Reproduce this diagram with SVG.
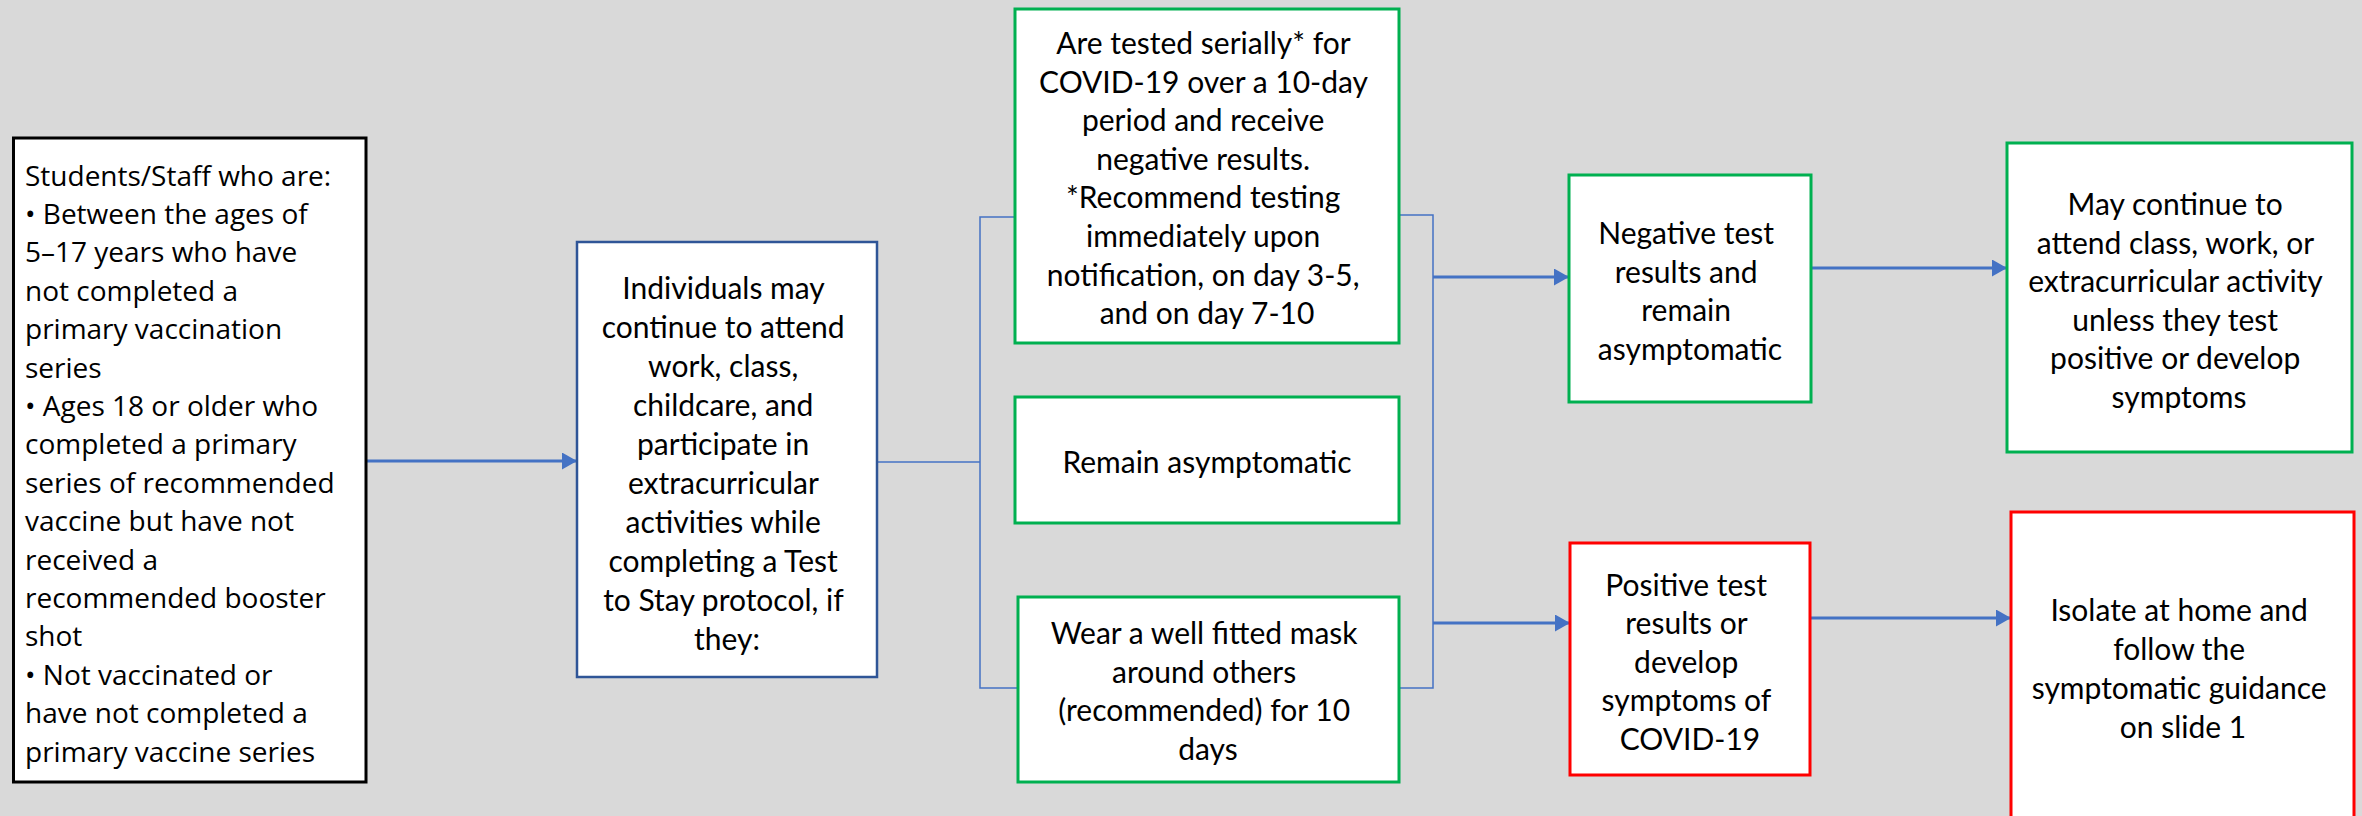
<svg xmlns="http://www.w3.org/2000/svg" width="2362" height="816" viewBox="0 0 2362 816">
<style>
.box{fill:#fff;stroke-width:3}
.blk{stroke:#000}
.blu{stroke:#2F5597;stroke-width:2.5}
.grn{stroke:#00B050}
.red{stroke:#FF0000}
.t{font-family:Lato,"Liberation Sans",sans-serif;font-size:30px;fill:#000;text-anchor:middle}
.t1{font-family:"Open Sans","Noto Sans",sans-serif;font-size:28px;fill:#000}
.br{fill:none;stroke:#4472C4;stroke-width:1.5}
.ar{fill:none;stroke:#4472C4;stroke-width:2.8;marker-end:url(#ah)}
</style>
<defs>
<marker id="ah" markerUnits="userSpaceOnUse" markerWidth="16" markerHeight="17" refX="15" refY="8.5" orient="auto">
<path d="M0,0 L15,8.5 L0,17 z" fill="#4472C4"/>
</marker>
</defs>
<rect width="2362" height="816" fill="#D9D9D9"/>

<g id="connectors">
<path class="ar" d="M366,461 H577"/>
<path class="br" d="M877,462 H980"/>
<path class="br" d="M1015,217 H980 V688 H1018"/>
<path class="br" d="M1399,215 H1433 V688 H1399"/>
<path class="ar" d="M1433,277 H1569"/>
<path class="ar" d="M1433,623 H1570"/>
<path class="ar" d="M1811,268 H2007"/>
<path class="ar" d="M1810,618 H2011"/>
</g>

<g id="n1">
<rect class="box blk" x="13.5" y="138" width="352.5" height="644"/>
<text class="t1">
<tspan x="25" y="185.5">Students/Staff who are:</tspan>
<tspan x="25" y="223.9">• Between the ages of</tspan>
<tspan x="25" y="262.3">5–17 years who have</tspan>
<tspan x="25" y="300.7">not completed a</tspan>
<tspan x="25" y="339.1">primary vaccination</tspan>
<tspan x="25" y="377.5">series</tspan>
<tspan x="25" y="415.9">• Ages 18 or older who</tspan>
<tspan x="25" y="454.3">completed a primary</tspan>
<tspan x="25" y="492.7">series of recommended</tspan>
<tspan x="25" y="531.1">vaccine but have not</tspan>
<tspan x="25" y="569.5">received a</tspan>
<tspan x="25" y="607.9">recommended booster</tspan>
<tspan x="25" y="646.3">shot</tspan>
<tspan x="25" y="684.7">• Not vaccinated or</tspan>
<tspan x="25" y="723.1">have not completed a</tspan>
<tspan x="25" y="761.5">primary vaccine series</tspan>
</text>
</g>

<g id="n2">
<rect class="box blu" x="577" y="242" width="300" height="435"/>
<text class="t">
<tspan x="727" y="299">Individuals may</tspan>
<tspan x="727" y="338">continue to attend</tspan>
<tspan x="727" y="377">work, class,</tspan>
<tspan x="727" y="416">childcare, and</tspan>
<tspan x="727" y="455">participate in</tspan>
<tspan x="727" y="494">extracurricular</tspan>
<tspan x="727" y="533">activities while</tspan>
<tspan x="727" y="572">completing a Test</tspan>
<tspan x="727" y="611">to Stay protocol, if</tspan>
<tspan x="727" y="650">they:</tspan>
</text>
</g>

<g id="n3">
<rect class="box grn" x="1015" y="9" width="384" height="334"/>
<text class="t">
<tspan x="1207" y="54">Are tested serially* for</tspan>
<tspan x="1207" y="92.6">COVID-19 over a 10-day</tspan>
<tspan x="1207" y="131.2">period and receive</tspan>
<tspan x="1207" y="169.8">negative results.</tspan>
<tspan x="1207" y="208.4">*Recommend testing</tspan>
<tspan x="1207" y="247">immediately upon</tspan>
<tspan x="1207" y="285.6">notification, on day 3-5,</tspan>
<tspan x="1207" y="324.2">and on day 7-10</tspan>
</text>
</g>

<g id="n4">
<rect class="box grn" x="1015" y="397" width="384" height="126"/>
<text class="t" x="1207" y="473">Remain asymptomatic</text>
</g>

<g id="n5">
<rect class="box grn" x="1018" y="597" width="381" height="185"/>
<text class="t">
<tspan x="1208" y="644">Wear a well fitted mask</tspan>
<tspan x="1208" y="682.5">around others</tspan>
<tspan x="1208" y="721">(recommended) for 10</tspan>
<tspan x="1208" y="759.5">days</tspan>
</text>
</g>

<g id="n6">
<rect class="box grn" x="1569" y="175" width="242" height="227"/>
<text class="t">
<tspan x="1690" y="244">Negative test</tspan>
<tspan x="1690" y="282.5">results and</tspan>
<tspan x="1690" y="321">remain</tspan>
<tspan x="1690" y="359.5">asymptomatic</tspan>
</text>
</g>

<g id="n7">
<rect class="box grn" x="2007" y="143" width="345" height="309"/>
<text class="t">
<tspan x="2179" y="215">May continue to</tspan>
<tspan x="2179" y="253.6">attend class, work, or</tspan>
<tspan x="2179" y="292.2">extracurricular activity</tspan>
<tspan x="2179" y="330.8">unless they test</tspan>
<tspan x="2179" y="369.4">positive or develop</tspan>
<tspan x="2179" y="408">symptoms</tspan>
</text>
</g>

<g id="n8">
<rect class="box red" x="1570" y="543" width="240" height="232"/>
<text class="t">
<tspan x="1690" y="596">Positive test</tspan>
<tspan x="1690" y="634.4">results or</tspan>
<tspan x="1690" y="672.8">develop</tspan>
<tspan x="1690" y="711.2">symptoms of</tspan>
<tspan x="1690" y="749.6">COVID-19</tspan>
</text>
</g>

<g id="n9">
<rect class="box red" x="2011" y="512" width="343" height="330"/>
<text class="t">
<tspan x="2183" y="621">Isolate at home and</tspan>
<tspan x="2183" y="660">follow the</tspan>
<tspan x="2183" y="699">symptomatic guidance</tspan>
<tspan x="2183" y="738">on slide 1</tspan>
</text>
</g>
</svg>
